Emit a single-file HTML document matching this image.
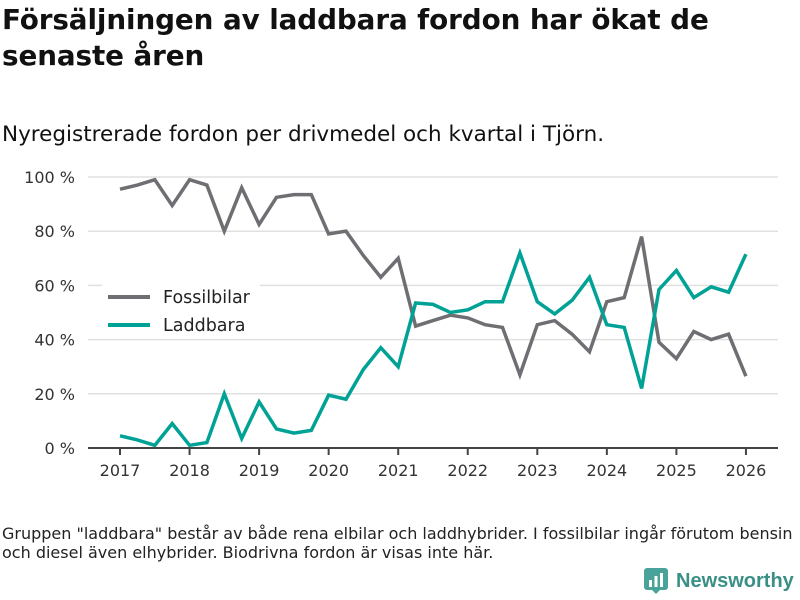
<!DOCTYPE html>
<html><head><meta charset="utf-8"><style>
body{margin:0;width:800px;height:600px;background:#fff;font-family:"DejaVu Sans","Liberation Sans",sans-serif;color:#111;overflow:hidden;position:relative}
#title{position:absolute;left:2px;top:2px;font-size:27.8px;font-weight:bold;line-height:36px;margin:0;letter-spacing:-0.1px}
#sub{position:absolute;left:2px;top:122px;font-size:21.5px}
#foot{position:absolute;left:2px;top:524px;font-size:16px;line-height:19px;color:#222;letter-spacing:0px}
#logo{position:absolute;left:644px;top:568px;font-size:20px;font-weight:bold;color:#3a8f86;display:flex;align-items:center;gap:8px;font-family:"Liberation Sans",sans-serif}
</style></head><body>
<h1 id="title">Försäljningen av laddbara fordon har ökat de<br>senaste åren</h1>
<div id="sub">Nyregistrerade fordon per drivmedel och kvartal i Tjörn.</div>
<svg id="chart" width="800" height="600" style="position:absolute;left:0;top:0"></svg>
<div id="foot">Gruppen "laddbara" består av både rena elbilar och laddhybrider. I fossilbilar ingår förutom bensin<br>och diesel även elhybrider. Biodrivna fordon är visas inte här.</div>
<div id="logo"><svg width="24" height="26" viewBox="0 0 24 26"><rect x="0" y="0" width="24" height="22" rx="3" fill="#4aa39a"/><path d="M8 22 L12 26 L16 22Z" fill="#4aa39a"/><rect x="5" y="12" width="3" height="7" fill="#fff"/><rect x="10.5" y="8" width="3" height="11" fill="#fff"/><rect x="16" y="5" width="3" height="14" fill="#fff"/></svg><span>Newsworthy</span></div>
<script>
const years=[2017,2018,2019,2020,2021,2022,2023,2024,2025,2026];
const yTicks=[0,20,40,60,80,100];
const fossil=[95.5,97,99,89.5,99,97,80,96,82.5,92.5,93.5,93.5,79,80,71,63,70,45,47,49,48,45.5,44.5,27,45.5,47,42,35.5,54,55.5,78,39,33,43,40,42,26.5];
const laddbara=[4.5,3,1,9,1,2,20,3.5,17,7,5.5,6.5,19.5,18,29,37,30,53.5,53,50,51,54,54,72,54,49.5,54.5,63,45.5,44.5,22,58.5,65.5,55.5,59.5,57.5,71.5];
const svg=document.getElementById('chart');const NS='http://www.w3.org/2000/svg';
function X(t){return 120+(t-2017)*69.55;}
function Y(v){return 448-v*2.71;}
function mk(tag,attrs,parent){const e=document.createElementNS(NS,tag);for(const k in attrs)e.setAttribute(k,attrs[k]);(parent||svg).appendChild(e);return e;}
yTicks.forEach(v=>{
 const g=mk('line',{x1:88,x2:778,y1:Y(v),y2:Y(v),stroke:'#e0e0e0','stroke-width':1.5});
 
 
 const t=mk('text',{x:75,y:Y(v)+6,'text-anchor':'end','font-size':16,fill:'#333'});t.textContent=v+' %';
 
 
});
const ax=mk('line',{x1:88,x2:778,y1:448,y2:448,stroke:'#444','stroke-width':2});


years.forEach(y=>{
 const tk=mk('line',{x1:X(y),x2:X(y),y1:448,y2:455,stroke:'#444','stroke-width':2});
 
 
 const t=mk('text',{x:X(y),y:476,'text-anchor':'middle','font-size':16,fill:'#333'});t.textContent=y;
 
 
});
function line(arr,color,name){
 const d=arr.map((v,i)=>(i?'L':'M')+X(2017+i/4).toFixed(1)+' '+Y(v).toFixed(1)).join(' ');
 const p=mk('path',{d:d,fill:'none',stroke:color,'stroke-width':3.5,'stroke-linejoin':'miter'});
 
 
}
line(fossil,'#6f6e73','fossilbilar-line');
line(laddbara,'#00a296','laddbara-line');
const lg=mk('g',{});


mk('rect',{x:102,y:284,width:158,height:54,fill:'#fff','fill-opacity':0.95},lg);
[['Fossilbilar','#6f6e73',297],['Laddbara','#00a296',325]].forEach(([n,c,yy])=>{
 const it=mk('g',{},lg);
 
 
 mk('line',{x1:108,x2:150,y1:yy,y2:yy,stroke:c,'stroke-width':4},it);
 const t=mk('text',{x:163,y:yy+6,'font-size':17.5,fill:'#222'},it);t.textContent=n;
});
</script>
</body></html>
